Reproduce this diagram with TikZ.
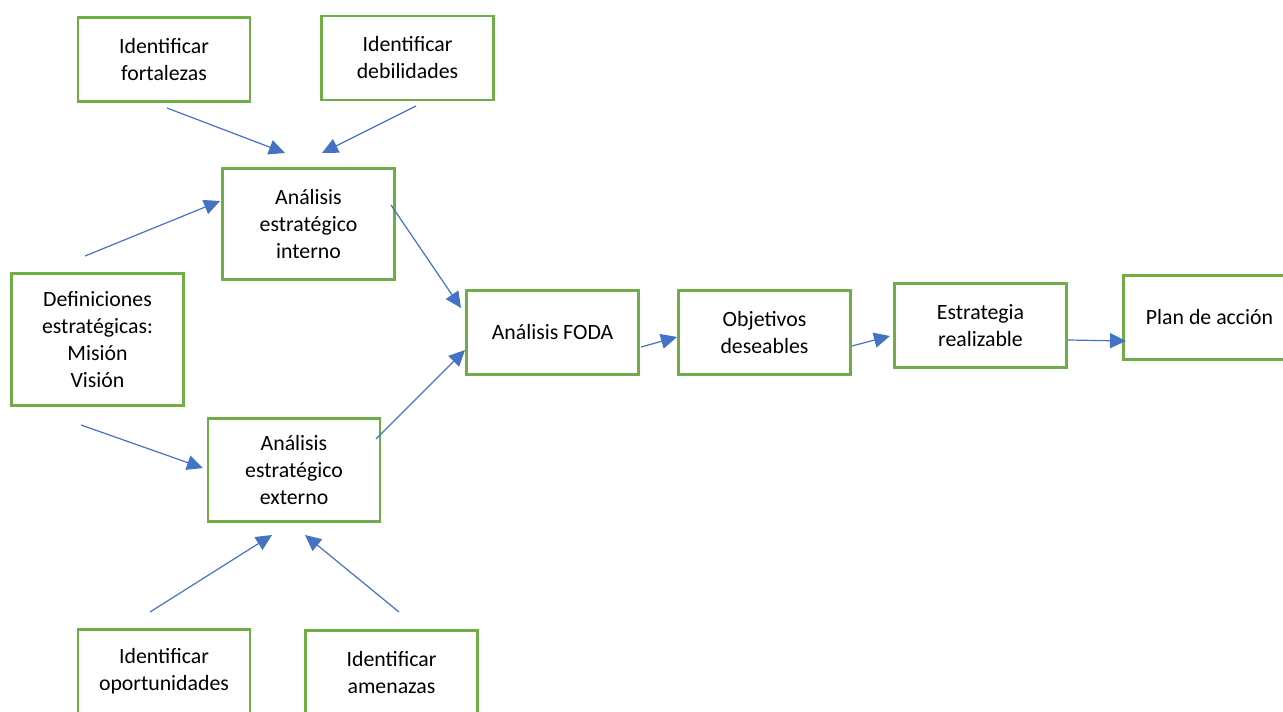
\documentclass[tikz,border=0pt]{standalone}
\usepackage{fontspec}
\setmainfont{Carlito}
\usepackage{tikz}
\usetikzlibrary{arrows.meta}
\definecolor{boxgreen}{HTML}{70AD47}
\definecolor{arrowblue}{HTML}{4472C4}
\tikzset{
  box/.style={draw=boxgreen,line width=1.25pt,minimum width=86pt,minimum height=42pt,align=center,inner sep=2pt},
  arr/.style={draw,color=arrowblue,line width=0.6pt,-{Triangle[length=8pt,width=7.5pt]}},
}

\begin{document}
\begin{tikzpicture}[x=0.5pt,y=-0.5pt,font=\fontsize{10.9}{13.5}\selectfont]
	\path[use as bounding box,clip] (0,0) rectangle (1283,711);
	\node[box] (fort) at (164,59.5) {Identificar\\fortalezas};
	\node[box] (deb) at (407.5,58) {Identificar\\debilidades};
	\node[box,minimum height=55.5pt] (intern) at (308.5,224) {Análisis\\estratégico\\interno};
	\node[box,minimum height=66pt] (defi) at (97.5,339.5) {Definiciones\\estratégicas:\\Misión\\Visión};
	\node[box,minimum height=51.5pt] (extern) at (294,470) {Análisis\\estratégico\\externo};
	\node[box] (oport) at (164,671.5) {Identificar\\oportunidades};
	\node[box] (amen) at (391.5,672.5) {Identificar\\amenazas};
	\node[box] (foda) at (552.5,332.5) {Análisis FODA};
	\node[box] (obj) at (764.5,332.5) {Objetivos\\deseables};
	\node[box] (estr) at (980.5,325.5) {Estrategia\\realizable};
	\node[box] (plan) at (1209.5,317.5) {Plan de acción};

	% free ends of the arrows
	\coordinate (fortOut) at (167,108);   \coordinate (intNW) at (285,153);
	\coordinate (debOut) at (416,106);    \coordinate (intNE) at (322,153);
	\coordinate (defUp) at (85,256);      \coordinate (intW) at (220,201);
	\coordinate (intOut) at (391,205);    \coordinate (fodaIn1) at (461,308);
	\coordinate (defDown) at (81,425);    \coordinate (extW) at (203,468);
	\coordinate (extOut) at (376,439);    \coordinate (fodaIn2) at (465,350);
	\coordinate (oportOut) at (150,612);  \coordinate (extSW) at (272,535);
	\coordinate (amenOut) at (399,612);   \coordinate (extSE) at (305,535);
	\coordinate (fodaOut) at (641,347);   \coordinate (objIn) at (677,337);
	\coordinate (objOut) at (852,346);    \coordinate (estrIn) at (890,336);
	\coordinate (estrOut) at (1068,340);  \coordinate (planIn) at (1126,341);

	\path[every edge/.append style=arr]
		(fortOut) edge (intNW)
		(debOut) edge (intNE)
		(defUp) edge (intW)
		(intOut) edge (fodaIn1)
		(defDown) edge (extW)
		(extOut) edge (fodaIn2)
		(oportOut) edge (extSW)
		(amenOut) edge (extSE)
		(fodaOut) edge (objIn)
		(objOut) edge (estrIn)
		(estrOut) edge (planIn);
\end{tikzpicture}
\end{document}
